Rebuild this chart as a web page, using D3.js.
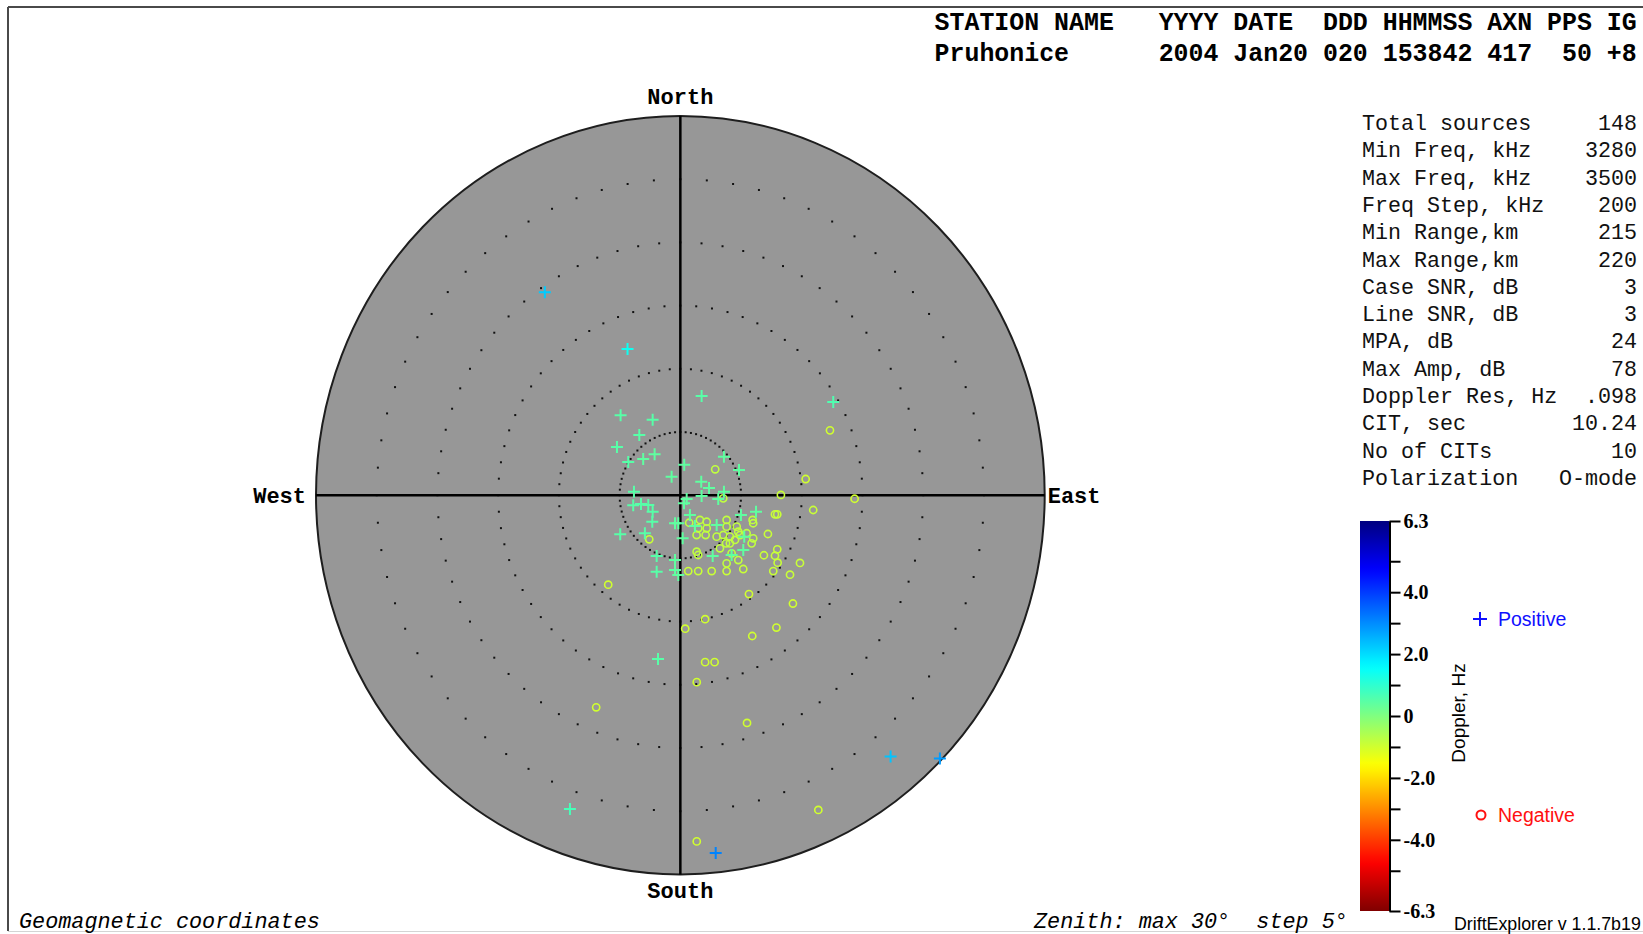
<!DOCTYPE html>
<html>
<head>
<meta charset="utf-8">
<script src="https://cdn.jsdelivr.net/npm/d3@7"></script>
<style>
  html, body { margin: 0; padding: 0; background: #fff; }
  svg { display: block; }
  text { white-space: pre; }
</style>
</head>
<body>
<svg id="chart" width="1643" height="934"></svg>
<script>
// ---- Header and run parameters ----
const headerLabels = "STATION NAME   YYYY DATE  DDD HHMMSS AXN PPS IG";
const headerValues = "Pruhonice      2004 Jan20 020 153842 417  50 +8";

const statLabels = ["Total sources", "Min Freq, kHz", "Max Freq, kHz", "Freq Step, kHz",
  "Min Range,km", "Max Range,km", "Case SNR, dB", "Line SNR, dB", "MPA, dB",
  "Max Amp, dB", "Doppler Res, Hz", "CIT, sec", "No of CITs", "Polarization"];
const statValues = ["148", "3280", "3500", "200", "215", "220", "3", "3", "24",
  "78", ".098", "10.24", "10", "O-mode"];

// ---- Skymap layout ----
const compassLabels = ["North", "East", "South", "West"];
const zenithMax = 30;
const zenithRings = [5, 10, 15, 20, 25];
const ringDotStep = 5; // degrees of azimuth between ring dots

// ---- Doppler colour scale ----
const dopplerDomain = [-6.3, 6.3];
const dopplerMajorTicks = [6.3, 4.0, 2.0, 0, -2.0, -4.0, -6.3];
const dopplerTickLabels = ["6.3", "4.0", "2.0", "0", "-2.0", "-4.0", "-6.3"];
const dopplerMinorTicks = [5, 3, 1, -1, -3, -5];

// ---- Sources: [east zenith deg, north zenith deg, doppler Hz] ----
const positiveSources = [
  [-11.16, 16.05, 2.2], [-4.35, 11.57, 1.4], [1.75, 7.85, 0.5], [12.59, 7.37, 0.6],
  [-4.92, 6.32, 0.5], [-2.28, 5.97, 0.5], [-3.38, 4.76, 0.5], [-5.22, 3.81, 0.5],
  [-2.12, 3.24, 0.4], [-4.29, 2.63, 0.5], [-3.06, 2.86, 0.4], [3.59, 3.05, 0.4],
  [0.32, 2.41, 0.4], [4.83, 1.99, 0.4], [-0.72, 1.46, 0.4], [1.72, 1.07, 0.4],
  [2.36, 0.57, 0.4], [3.59, 0.28, 0.4], [-3.82, 0.28, 0.5], [1.75, -0.06, 0.4],
  [0.52, -0.30, 0.4], [3.12, -0.30, 0.4], [0.30, -0.64, 0.4], [-3.88, -0.80, 0.5],
  [-3.24, -0.70, 0.5], [-2.64, -0.78, 0.5], [-2.28, -1.31, 0.5], [-2.31, -2.10, 0.5],
  [0.79, -1.57, 0.4], [4.99, -1.57, 0.4], [6.23, -1.31, 0.4], [-0.44, -2.22, 0.4],
  [-0.17, -2.22, 0.4], [2.99, -2.36, 0.4], [1.20, -2.44, 0.4], [-4.95, -3.09, 0.5],
  [-2.92, -3.01, 0.5], [0.19, -3.41, 0.4], [5.26, -3.28, 0.4], [5.18, -4.34, 0.4],
  [-1.95, -4.81, 0.5], [2.66, -4.81, 0.4], [-0.44, -5.13, 0.4], [4.22, -4.73, 0.4],
  [-1.95, -6.05, 0.5], [-0.44, -5.92, 0.4], [-0.17, -6.31, 0.4], [-1.84, -12.96, 0.5],
  [17.31, -20.67, 2.3], [21.37, -20.84, 2.8], [-9.09, -24.82, 0.7], [2.91, -28.30, 3.1]
];

const negativeSources = [
  [12.32, 5.13, -1.0], [2.87, 2.05, -0.8], [10.32, 1.28, -1.0], [8.28, 0.02, -0.9],
  [14.35, -0.28, -1.0], [3.53, -0.25, -0.8], [10.94, -1.17, -0.9], [7.79, -1.51, -0.9],
  [7.98, -1.51, -0.9], [5.95, -1.96, -0.8], [6.00, -2.22, -0.8], [3.81, -1.96, -0.8],
  [0.73, -2.18, -0.8], [1.61, -1.96, -0.8], [2.17, -2.10, -0.8], [7.21, -3.07, -0.9],
  [-2.56, -3.49, -0.9], [1.34, -3.15, -0.8], [2.08, -3.15, -0.8], [1.47, -2.62, -0.8],
  [2.17, -2.62, -0.8], [2.99, -3.28, -0.8], [3.53, -3.15, -0.8], [4.08, -3.28, -0.8],
  [4.64, -2.49, -0.8], [4.91, -3.15, -0.8], [5.46, -3.01, -0.8], [5.87, -3.81, -0.8],
  [6.00, -3.41, -0.8], [3.76, -3.81, -0.8], [3.26, -4.20, -0.8], [4.08, -3.81, -0.8],
  [4.50, -3.54, -0.8], [3.81, -2.49, -0.8], [4.22, -4.60, -0.8], [4.77, -2.89, -0.8],
  [7.98, -4.28, -0.9], [6.88, -4.75, -0.9], [7.79, -4.79, -0.9], [8.01, -5.34, -0.9],
  [9.85, -5.36, -0.9], [1.34, -4.47, -0.8], [1.47, -4.73, -0.8], [3.81, -5.39, -0.8],
  [4.77, -5.13, -0.8], [7.65, -6.00, -0.9], [9.03, -6.29, -0.9], [5.18, -5.84, -0.9],
  [0.65, -6.00, -0.9], [1.47, -6.00, -0.9], [2.58, -6.00, -0.9], [3.81, -6.00, -0.9],
  [-5.94, -7.08, -1.0], [5.65, -7.82, -1.0], [9.27, -8.57, -1.0], [0.40, -10.56, -1.0],
  [2.04, -9.81, -1.0], [5.92, -11.14, -1.0], [7.91, -10.47, -1.0], [2.04, -13.21, -1.0],
  [2.82, -13.21, -1.0], [1.35, -14.79, -1.0], [-6.93, -16.78, -1.0], [5.49, -18.02, -1.0],
  [11.36, -24.90, -1.0], [1.35, -27.39, -1.0]
];

// ---- Footer text ----
const coordNote = "Geomagnetic coordinates";
const zenithNote = "Zenith: max 30\u00b0  step 5\u00b0";
const versionNote = "DriftExplorer v 1.1.7b19";

// ================= drawing =================
const svg = d3.select("#chart");
const MONO = "'Liberation Mono', 'Courier New', monospace";
const SANS = "'Liberation Sans', Arial, sans-serif";
const SERIF = "'Liberation Serif', 'Times New Roman', serif";

// Jet colour map, blue for positive doppler, red for negative
function jet(t) {
  const c = v => Math.max(0, Math.min(1, v));
  const r = c(1.5 - Math.abs(4 * t - 3));
  const g = c(1.5 - Math.abs(4 * t - 2));
  const b = c(1.5 - Math.abs(4 * t - 1));
  return d3.rgb(r * 255, g * 255, b * 255).formatHex();
}
const dopplerT = d3.scaleLinear().domain([dopplerDomain[1], dopplerDomain[0]]).range([0, 1]);
const dopplerColor = v => jet(dopplerT(v));

// Outer frame
svg.append("line").attr("x1", 8).attr("y1", 7).attr("x2", 1643).attr("y2", 7)
  .attr("stroke", "#4a4a4a").attr("stroke-width", 2);
svg.append("line").attr("x1", 8).attr("y1", 7).attr("x2", 8).attr("y2", 931)
  .attr("stroke", "#4a4a4a").attr("stroke-width", 2);
svg.append("line").attr("x1", 8).attr("y1", 931.5).attr("x2", 1643).attr("y2", 931.5)
  .attr("stroke", "#d4d4d4").attr("stroke-width", 1);

// Header
svg.append("text").attr("x", 934.6).attr("y", 30)
  .attr("font-family", MONO).attr("font-weight", "bold").attr("font-size", 24.9)
  .attr("fill", "#000").text(headerLabels);
svg.append("text").attr("x", 934.6).attr("y", 61)
  .attr("font-family", MONO).attr("font-weight", "bold").attr("font-size", 24.9)
  .attr("fill", "#000").text(headerValues);

// Parameter table
const statY = d3.scalePoint().domain(d3.range(statLabels.length)).range([130, 130 + 27.3 * 13]);
const stats = svg.append("g").attr("font-family", MONO).attr("font-size", 21.7).attr("fill", "#111");
stats.selectAll("text.lab").data(statLabels).join("text").attr("class", "lab")
  .attr("x", 1362).attr("y", (d, i) => statY(i)).text(d => d);
stats.selectAll("text.val").data(statValues).join("text").attr("class", "val")
  .attr("x", 1637).attr("y", (d, i) => statY(i)).attr("text-anchor", "end").text(d => d);

// Skymap scales (zenith components in degrees)
const x = d3.scaleLinear().domain([-zenithMax, zenithMax]).range([316, 1044.7]);
const y = d3.scaleLinear().domain([-zenithMax, zenithMax]).range([874.4, 116]);
const cx = x(0), cy = y(0);
const rx = x(zenithMax) - cx, ry = cy - y(zenithMax);

const map = svg.append("g");
map.append("ellipse").attr("cx", cx).attr("cy", cy).attr("rx", rx).attr("ry", ry)
  .attr("fill", "#979797").attr("stroke", "#1e1e1e").attr("stroke-width", 2);

// Dotted zenith rings
const ringDots = [];
zenithRings.forEach(z => {
  for (let a = 0; a < 360; a += ringDotStep) {
    const rad = a * Math.PI / 180;
    ringDots.push([z * Math.sin(rad), z * Math.cos(rad)]);
  }
});
map.append("g").selectAll("rect").data(ringDots).join("rect")
  .attr("x", d => x(d[0]) - 1).attr("y", d => y(d[1]) - 1)
  .attr("width", 2).attr("height", 2).attr("fill", "#111");

// Cross hairs
map.append("line").attr("x1", x(0)).attr("x2", x(0)).attr("y1", y(zenithMax)).attr("y2", y(-zenithMax))
  .attr("stroke", "#000").attr("stroke-width", 2.5);
map.append("line").attr("x1", x(-zenithMax)).attr("x2", x(zenithMax)).attr("y1", y(0)).attr("y2", y(0))
  .attr("stroke", "#000").attr("stroke-width", 2.5);

// Compass labels
const comp = svg.append("g").attr("font-family", MONO).attr("font-weight", "bold")
  .attr("font-size", 22).attr("fill", "#000");
comp.append("text").attr("x", cx).attr("y", y(zenithMax) - 12).attr("text-anchor", "middle").text(compassLabels[0]);
comp.append("text").attr("x", x(zenithMax) + 3).attr("y", cy + 8).attr("text-anchor", "start").text(compassLabels[1]);
comp.append("text").attr("x", cx).attr("y", y(-zenithMax) + 24).attr("text-anchor", "middle").text(compassLabels[2]);
comp.append("text").attr("x", x(-zenithMax) - 10).attr("y", cy + 8).attr("text-anchor", "end").text(compassLabels[3]);

// Sources: circles for negative doppler, crosses for positive
map.append("g").selectAll("circle").data(negativeSources).join("circle")
  .attr("cx", d => x(d[0])).attr("cy", d => y(d[1])).attr("r", 3.6)
  .attr("fill", "none").attr("stroke", d => dopplerColor(d[2])).attr("stroke-width", 1.6);
map.append("g").selectAll("path").data(positiveSources).join("path")
  .attr("transform", d => `translate(${x(d[0])},${y(d[1])})`)
  .attr("d", "M-6,0H6M0,-6V6")
  .attr("fill", "none").attr("stroke", d => dopplerColor(d[2])).attr("stroke-width", 2);

// Colour bar
const barX = 1360, barW = 29.5;
const cbar = d3.scaleLinear().domain(dopplerDomain).range([911, 521]);
const defs = svg.append("defs");
const grad = defs.append("linearGradient").attr("id", "jetGrad")
  .attr("x1", 0).attr("y1", 0).attr("x2", 0).attr("y2", 1);
d3.range(0, 1.0001, 0.02).forEach(t => {
  grad.append("stop").attr("offset", t).attr("stop-color", jet(t));
});
svg.append("rect").attr("x", barX).attr("y", cbar(dopplerDomain[1])).attr("width", barW)
  .attr("height", cbar(dopplerDomain[0]) - cbar(dopplerDomain[1])).attr("fill", "url(#jetGrad)");

const majorAxis = d3.axisRight(cbar).tickValues(dopplerMajorTicks)
  .tickFormat((d, i) => dopplerTickLabels[i]).tickSize(11).tickSizeOuter(0).tickPadding(3);
const gMajor = svg.append("g").attr("transform", `translate(${barX + barW},0)`).call(majorAxis);
gMajor.select(".domain").attr("stroke", "#000").attr("stroke-width", 2);
gMajor.selectAll(".tick line").attr("stroke", "#000").attr("stroke-width", 2);
gMajor.selectAll(".tick text").attr("font-family", SERIF).attr("font-weight", "bold")
  .attr("font-size", 20).attr("fill", "#000");

const minorAxis = d3.axisRight(cbar).tickValues(dopplerMinorTicks).tickFormat("").tickSize(11).tickSizeOuter(0);
const gMinor = svg.append("g").attr("transform", `translate(${barX + barW},0)`).call(minorAxis);
gMinor.select(".domain").remove();
gMinor.selectAll(".tick line").attr("stroke", "#000").attr("stroke-width", 2);

svg.append("text").attr("transform", "translate(1465,713) rotate(-90)")
  .attr("text-anchor", "middle").attr("font-family", SANS).attr("font-size", 19)
  .attr("fill", "#000").text("Doppler, Hz");

// Marker legend
svg.append("path").attr("transform", "translate(1480,619)").attr("d", "M-7,0H7M0,-7V7")
  .attr("stroke", "#1010ff").attr("stroke-width", 2).attr("fill", "none");
svg.append("text").attr("x", 1498).attr("y", 626).attr("font-family", SANS).attr("font-size", 19.5)
  .attr("fill", "#1010ff").text("Positive");
svg.append("circle").attr("cx", 1481).attr("cy", 815).attr("r", 4.5)
  .attr("stroke", "#ff1010").attr("stroke-width", 2).attr("fill", "none");
svg.append("text").attr("x", 1498).attr("y", 822).attr("font-family", SANS).attr("font-size", 19.5)
  .attr("fill", "#ff1010").text("Negative");

// Footer
svg.append("text").attr("x", 19).attr("y", 928).attr("font-family", MONO).attr("font-style", "italic")
  .attr("font-size", 21.8).attr("fill", "#000").text(coordNote);
svg.append("text").attr("x", 1034).attr("y", 928).attr("font-family", MONO).attr("font-style", "italic")
  .attr("font-size", 21.8).attr("fill", "#000").text(zenithNote);
svg.append("text").attr("x", 1454).attr("y", 930).attr("font-family", SANS)
  .attr("font-size", 17.8).attr("fill", "#000").text(versionNote);
</script>
</body>
</html>
